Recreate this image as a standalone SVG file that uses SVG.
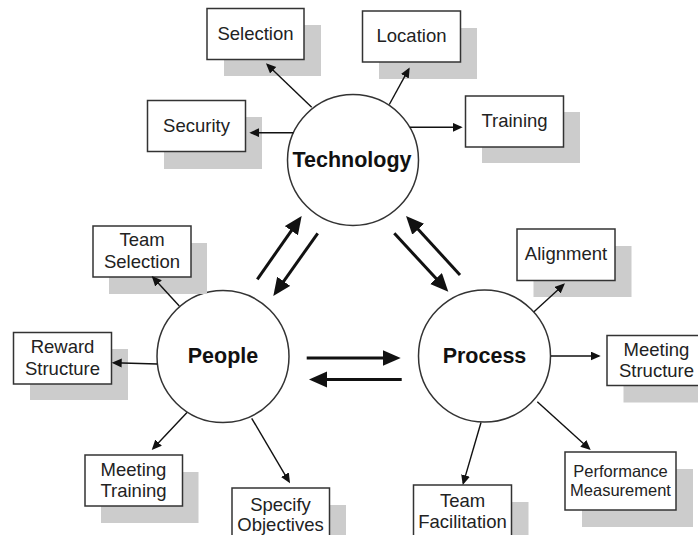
<svg xmlns="http://www.w3.org/2000/svg" width="698" height="535" viewBox="0 0 698 535">
<style>
.shadow{fill:#cccccc;stroke:none}
.box{fill:#ffffff;stroke:#333333;stroke-width:1.5}
.circ{fill:#ffffff;stroke:#333333;stroke-width:1.5}
.lbl{font-family:"Liberation Sans",Arial,sans-serif;font-size:18.5px;fill:#222222;text-anchor:middle}
.small{font-size:16.5px}
.big{font-family:"Liberation Sans",Arial,sans-serif;font-size:21.5px;font-weight:bold;fill:#111111;text-anchor:middle}
.thin{stroke:#111111;stroke-width:1.4;fill:none;marker-end:url(#ah)}
.thick{stroke:#111111;stroke-width:3;fill:none;marker-end:url(#AH)}
</style>
<defs>
<marker id="ah" markerUnits="userSpaceOnUse" markerWidth="11" markerHeight="10" refX="8" refY="4.5" orient="auto">
<path d="M0,0 L10,4.5 L0,9 z" fill="#111111"/>
</marker>
<marker id="AH" markerUnits="userSpaceOnUse" markerWidth="19" markerHeight="17" refX="13" refY="8" orient="auto">
<path d="M0,0 L18,8 L0,16 z" fill="#111111"/>
</marker>
</defs>
<rect width="698" height="535" fill="#ffffff"/>

<g id="technology">
<circle class="circ" cx="353" cy="160" r="65.5"/>
<text class="big" x="352" y="167">Technology</text>
</g>
<g id="people">
<circle class="circ" cx="223" cy="356.5" r="66"/>
<text class="big" x="223" y="363">People</text>
</g>
<g id="process">
<circle class="circ" cx="484.5" cy="356" r="66"/>
<text class="big" x="484.5" y="363">Process</text>
</g>

<g id="selection">
<rect class="shadow" x="224" y="25" width="97" height="51"/>
<rect class="box" x="207" y="8.5" width="97" height="51"/>
<text class="lbl" x="255.5" y="39.5">Selection</text>
</g>
<g id="location">
<rect class="shadow" x="379" y="28" width="98" height="51"/>
<rect class="box" x="362.5" y="11" width="98" height="51"/>
<text class="lbl" x="411.5" y="42">Location</text>
</g>
<g id="security">
<rect class="shadow" x="164" y="117" width="98" height="52"/>
<rect class="box" x="147.5" y="100.5" width="98" height="51"/>
<text class="lbl" x="196.5" y="132">Security</text>
</g>
<g id="training">
<rect class="shadow" x="482" y="112" width="98" height="51"/>
<rect class="box" x="465.5" y="96" width="98" height="51"/>
<text class="lbl" x="514.5" y="127">Training</text>
</g>
<g id="team-selection">
<rect class="shadow" x="109" y="243" width="98" height="51"/>
<rect class="box" x="93" y="226" width="98" height="51"/>
<text class="lbl" x="142" y="246">Team</text>
<text class="lbl" x="142" y="268">Selection</text>
</g>
<g id="reward-structure">
<rect class="shadow" x="30" y="349" width="98" height="51"/>
<rect class="box" x="13.5" y="332.5" width="98" height="51.5"/>
<text class="lbl" x="62.5" y="353">Reward</text>
<text class="lbl" x="62.5" y="374.5">Structure</text>
</g>
<g id="alignment">
<rect class="shadow" x="533.5" y="246" width="98" height="51"/>
<rect class="box" x="517" y="229" width="98" height="51.5"/>
<text class="lbl" x="566" y="259.5">Alignment</text>
</g>
<g id="meeting-structure">
<rect class="shadow" x="623.5" y="352.5" width="98" height="50"/>
<rect class="box" x="607" y="335.5" width="98" height="50"/>
<text class="lbl" x="656.5" y="355.5">Meeting</text>
<text class="lbl" x="656.5" y="377">Structure</text>
</g>
<g id="meeting-training">
<rect class="shadow" x="101" y="472" width="97.5" height="51"/>
<rect class="box" x="85" y="455" width="97.5" height="51"/>
<text class="lbl" x="133.5" y="475.5">Meeting</text>
<text class="lbl" x="133.5" y="497">Training</text>
</g>
<g id="specify-objectives">
<rect class="shadow" x="248.5" y="505" width="97.5" height="50"/>
<rect class="box" x="232" y="488" width="97.5" height="60"/>
<text class="lbl" x="280.5" y="510.5">Specify</text>
<text class="lbl" x="280.5" y="531">Objectives</text>
</g>
<g id="team-facilitation">
<rect class="shadow" x="430" y="502" width="98.5" height="50"/>
<rect class="box" x="413.5" y="485" width="98" height="60"/>
<text class="lbl" x="462.5" y="506.5">Team</text>
<text class="lbl" x="462.5" y="528">Facilitation</text>
</g>
<g id="performance-measurement">
<rect class="shadow" x="582" y="469" width="111" height="58"/>
<rect class="box" x="565" y="452" width="111" height="58"/>
<text class="lbl small" x="620.5" y="476.5">Performance</text>
<text class="lbl small" x="620.5" y="495.5">Measurement</text>
</g>

<g id="connectors">
<line class="thin" x1="311.7" y1="107.3" x2="267.4" y2="64.7"/>
<line class="thin" x1="389.3" y1="104.5" x2="408.7" y2="69.2"/>
<line class="thin" x1="293.5" y1="132.7" x2="251.3" y2="132.7"/>
<line class="thin" x1="410" y1="127.3" x2="460.7" y2="127.3"/>
<line class="thin" x1="179.3" y1="306" x2="153.1" y2="277.5"/>
<line class="thin" x1="157.3" y1="364" x2="113.7" y2="362.8"/>
<line class="thin" x1="187" y1="412.5" x2="153.1" y2="448.5"/>
<line class="thin" x1="251.7" y1="418.3" x2="289" y2="481.6"/>
<line class="thin" x1="534" y1="311.7" x2="563.5" y2="284.7"/>
<line class="thin" x1="551" y1="356" x2="598.7" y2="356"/>
<line class="thin" x1="481" y1="422.5" x2="463.3" y2="483.1"/>
<line class="thin" x1="537.3" y1="401.7" x2="589.2" y2="448.7"/>
<line class="thick" x1="257.3" y1="279.3" x2="298.8" y2="220.1"/>
<line class="thick" x1="317.7" y1="233.3" x2="276.2" y2="291.9"/>
<line class="thick" x1="394.3" y1="233.3" x2="444.9" y2="288"/>
<line class="thick" x1="460" y1="275" x2="409.4" y2="219.7"/>
<line class="thick" x1="306.7" y1="358" x2="395.7" y2="358"/>
<line class="thick" x1="401.7" y1="379.5" x2="314" y2="379.5"/>
</g>
</svg>
